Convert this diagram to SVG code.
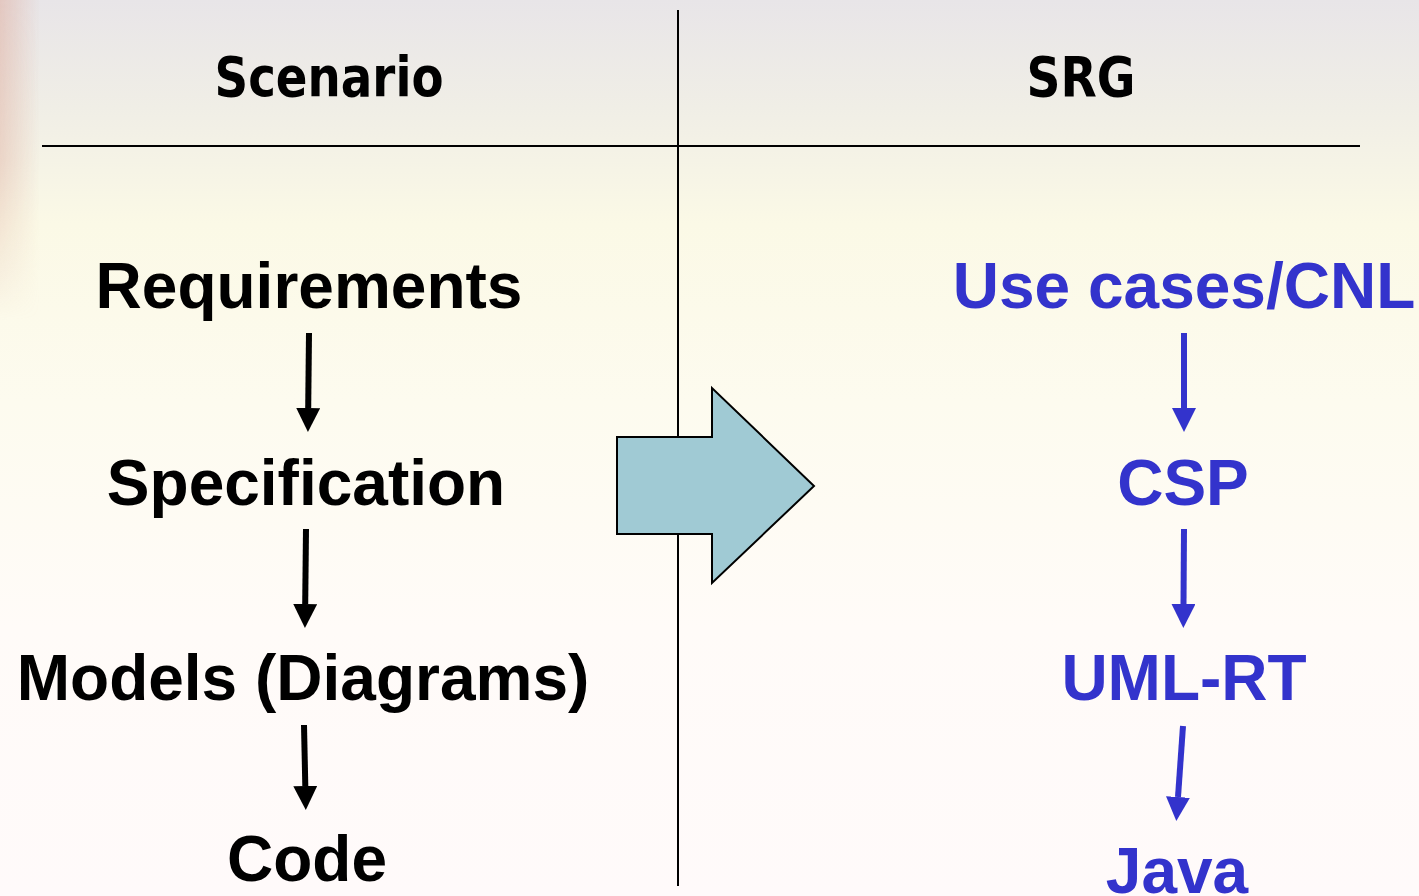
<svg xmlns="http://www.w3.org/2000/svg" width="1419" height="896" viewBox="0 0 1419 896">
<defs>
<linearGradient id="bg" x1="0" y1="0" x2="0" y2="1">
<stop offset="0" stop-color="#e8e5e8"/>
<stop offset="0.12" stop-color="#f0eee6"/>
<stop offset="0.25" stop-color="#fbf9e6"/>
<stop offset="0.45" stop-color="#fdfbef"/>
<stop offset="0.7" stop-color="#fffbf8"/>
<stop offset="1" stop-color="#fffafa"/>
</linearGradient>
<linearGradient id="glow" x1="0" y1="0" x2="1" y2="0">
<stop offset="0" stop-color="#e0b4a6" stop-opacity="0.6"/>
<stop offset="1" stop-color="#e0b4a6" stop-opacity="0"/>
</linearGradient>
<linearGradient id="glowv" x1="0" y1="0" x2="0" y2="1">
<stop offset="0" stop-color="#fff" stop-opacity="1"/>
<stop offset="0.5" stop-color="#fff" stop-opacity="0.8"/>
<stop offset="1" stop-color="#fff" stop-opacity="0"/>
</linearGradient>
<mask id="gm"><rect x="0" y="0" width="40" height="320" fill="url(#glowv)"/></mask>
<marker id="hk" markerWidth="4" markerHeight="4" refX="0" refY="2" orient="auto" markerUnits="strokeWidth">
<path d="M0,0 L4,2 L0,4 z" fill="#000"/>
</marker>
<marker id="hb" markerWidth="4" markerHeight="4" refX="0" refY="2" orient="auto" markerUnits="strokeWidth">
<path d="M0,0 L4,2 L0,4 z" fill="#3333cc"/>
</marker>
</defs>
<style>
.hd{font-family:"DejaVu Sans",Verdana,sans-serif;font-weight:bold;font-size:56px;fill:#000}
.k{font-family:"Liberation Sans",Arial,sans-serif;font-weight:bold;font-size:64px;fill:#000}
.b{font-family:"Liberation Sans",Arial,sans-serif;font-weight:bold;font-size:64px;fill:#3333cc}
.ak{stroke:#000;stroke-width:6;fill:none;marker-end:url(#hk)}
.ab{stroke:#3333cc;stroke-width:6;fill:none;marker-end:url(#hb)}
.ln{stroke:#000;stroke-width:2;fill:none}
</style>
<rect width="1419" height="896" fill="url(#bg)"/>
<rect x="0" y="0" width="40" height="320" fill="url(#glow)" mask="url(#gm)"/>
<g id="grid">
<line class="ln" x1="678" y1="10" x2="678" y2="886"/>
<line class="ln" x1="42" y1="146" x2="1360" y2="146"/>
</g>
<g id="header-scenario"><text class="hd" x="329" y="96" text-anchor="middle" textLength="229" lengthAdjust="spacingAndGlyphs">Scenario</text></g>
<g id="header-srg"><text class="hd" x="1081" y="96" text-anchor="middle" textLength="109" lengthAdjust="spacingAndGlyphs">SRG</text></g>
<g id="requirements"><text class="k" x="309" y="308" text-anchor="middle">Requirements</text></g>
<g id="specification"><text class="k" x="306" y="505" text-anchor="middle">Specification</text></g>
<g id="models"><text class="k" x="303" y="700" text-anchor="middle">Models (Diagrams)</text></g>
<g id="code"><text class="k" x="307" y="881" text-anchor="middle">Code</text></g>
<g id="usecases"><text class="b" x="1184" y="308" text-anchor="middle">Use cases/CNL</text></g>
<g id="csp"><text class="b" x="1183" y="505" text-anchor="middle">CSP</text></g>
<g id="umlrt"><text class="b" x="1184" y="700" text-anchor="middle">UML-RT</text></g>
<g id="java"><text class="b" x="1177" y="893" text-anchor="middle">Java</text></g>
<g id="transform-arrow">
<path d="M617,437 L712,437 L712,388 L814,486 L712,583 L712,534 L617,534 Z" fill="#a0cad4" stroke="#000" stroke-width="2" stroke-linejoin="miter"/>
</g>
<g id="connectors">
<line class="ak" x1="309" y1="333" x2="308.2" y2="408"/>
<line class="ak" x1="306" y1="529" x2="305.2" y2="604"/>
<line class="ak" x1="304" y1="725" x2="305.3" y2="786"/>
<line class="ab" x1="1184" y1="333" x2="1184" y2="408"/>
<line class="ab" x1="1184" y1="529" x2="1183.5" y2="604"/>
<line class="ab" x1="1183" y1="726" x2="1178" y2="797"/>
</g>
</svg>
